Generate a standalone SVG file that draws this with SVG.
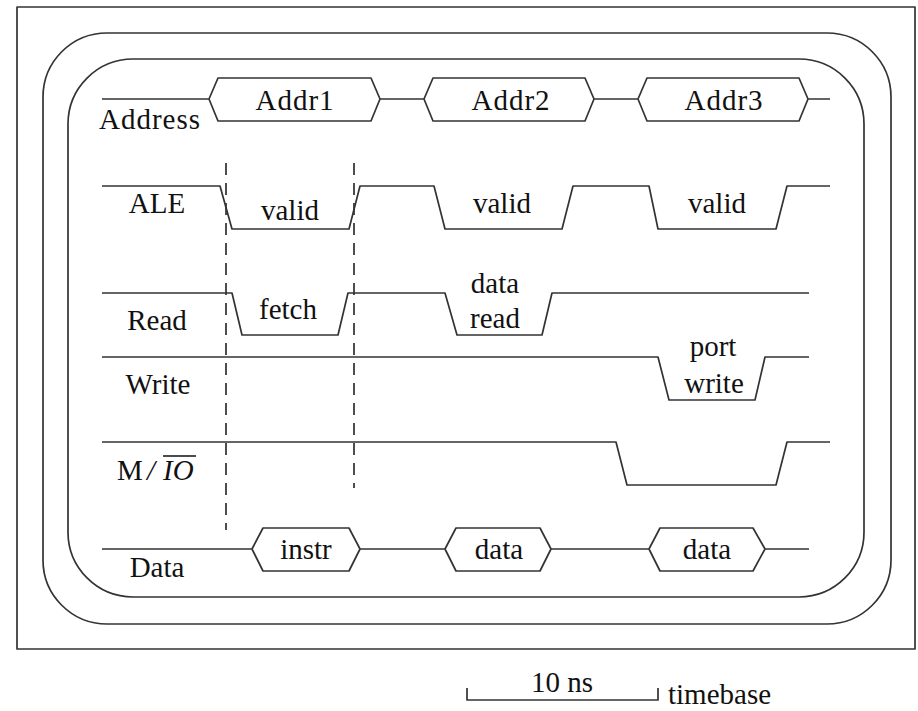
<svg xmlns="http://www.w3.org/2000/svg" width="918" height="711" viewBox="0 0 918 711">
<style>
.ln{fill:none;stroke:#333;stroke-width:1.7;stroke-linejoin:round}
.dash{fill:none;stroke:#222;stroke-width:1.6;stroke-dasharray:12 8}
text{font-family:"Liberation Serif","Times New Roman",serif;font-size:29px;fill:#111}
.c{text-anchor:middle}
</style>
<rect width="918" height="711" fill="#fff"/>
<g id="frame">
<rect class="ln" x="17" y="7" width="898" height="642"/>
<rect class="ln" x="43" y="33" width="848" height="591" rx="64" ry="64"/>
<rect class="ln" x="68" y="59" width="796" height="538" rx="65" ry="65"/>
</g>
<g id="connectors">
<line class="dash" x1="226" y1="163" x2="226" y2="530"/>
<line class="dash" x1="354" y1="163" x2="354" y2="488"/>
</g>
<g id="address">
<path class="ln" d="M102 99H209L218 78H371L380 99H424L433 78H585L594 99H638L647 78H799L808 99H830M209 99L218 121H371L380 99M424 99L433 121H585L594 99M638 99L647 121H799L808 99"/>
<text x="150" y="129" class="c" letter-spacing="1">Address</text>
<text x="295" y="110" class="c" letter-spacing="1">Addr1</text>
<text x="511" y="110" class="c" letter-spacing="1">Addr2</text>
<text x="724" y="110" class="c" letter-spacing="1">Addr3</text>
</g>
<g id="ale">
<path class="ln" d="M102 186H220L232 229H349L360 186H434L445 229H562L573 186H649L658 229H776L787 186H830"/>
<text x="157" y="213" class="c">ALE</text>
<text x="290" y="220" class="c">valid</text>
<text x="502" y="213" class="c">valid</text>
<text x="717" y="213" class="c">valid</text>
</g>
<g id="read">
<path class="ln" d="M102 293H232L242 335H338L348 293H445L457 335H542L552 293H809"/>
<text x="157" y="330" class="c">Read</text>
<text x="288" y="319" class="c">fetch</text>
<text x="495" y="293" class="c">data</text>
<text x="495" y="328" class="c">read</text>
</g>
<g id="write">
<path class="ln" d="M102 357H658L669 400H755L765 357H809"/>
<text x="158" y="394" class="c">Write</text>
<text x="713" y="356" class="c">port</text>
<text x="714" y="393" class="c">write</text>
</g>
<g id="mio">
<path class="ln" d="M102 442H616L627 485H776L787 442H830"/>
<text y="480"><tspan x="117">M</tspan><tspan x="147" font-style="italic">/</tspan><tspan x="163" font-style="italic">IO</tspan></text>
<line x1="163" y1="456" x2="196" y2="456" stroke="#111" stroke-width="1.5"/>
</g>
<g id="data">
<path class="ln" d="M102 549H252L263 528H349L360 549H445L456 528H540L551 549H649L660 528H753L765 549H809M252 549L263 571H349L360 549M445 549L456 571H540L551 549M649 549L660 571H753L765 549"/>
<text x="157" y="577" class="c">Data</text>
<text x="306" y="559" class="c">instr</text>
<text x="499" y="559" class="c">data</text>
<text x="707" y="559" class="c">data</text>
</g>
<g id="timebase">
<path class="ln" d="M467 688V700H658V688"/>
<text x="562" y="692" class="c">10 ns</text>
<text x="668" y="704">timebase</text>
</g>
</svg>
